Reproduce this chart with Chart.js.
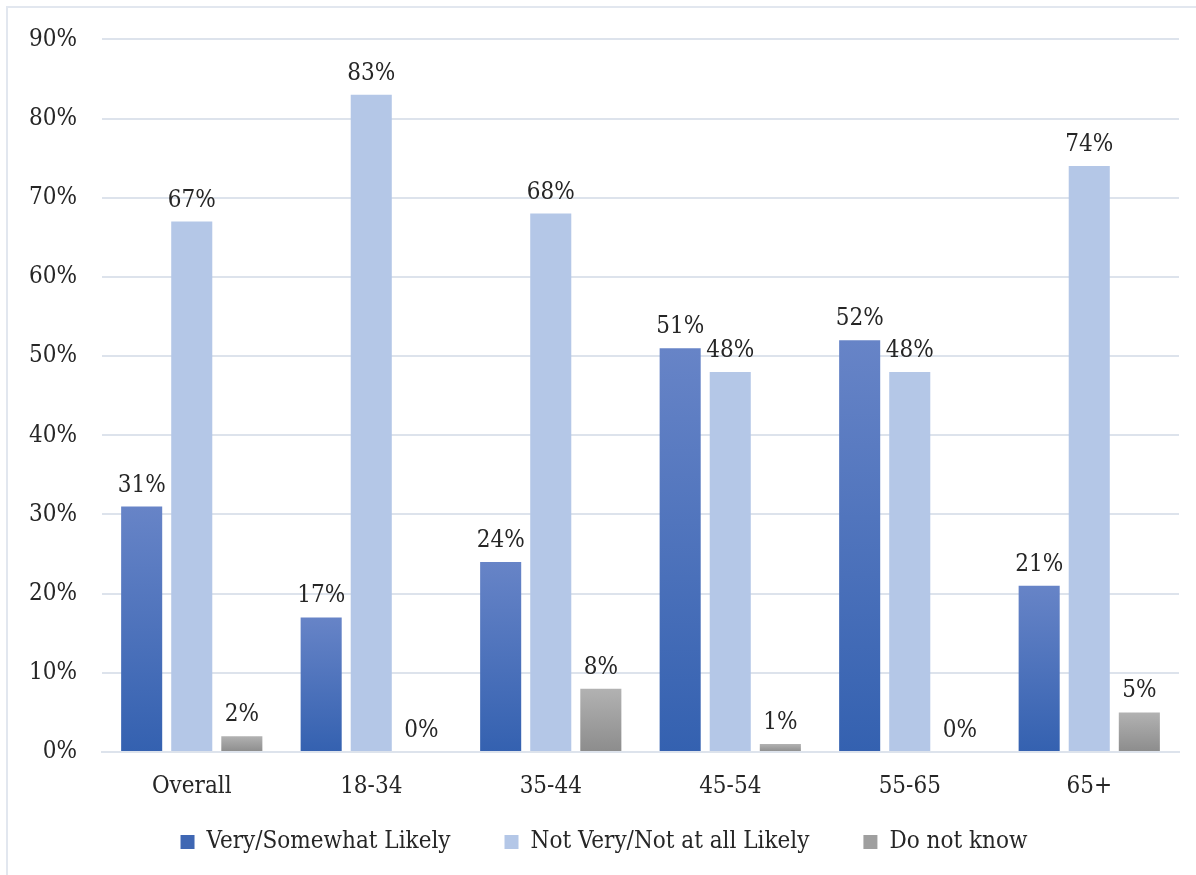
<!DOCTYPE html>
<html>
<head>
<meta charset="utf-8">
<script src="https://cdn.jsdelivr.net/npm/chart.js@4.4.1/dist/chart.umd.min.js"></script>
<style>
    html, body { margin: 0; padding: 0; background: #fff; overflow: hidden; }
    #frame { position: absolute; left: 6px; top: 6px; width: 1200px; height: 880px; border: 2px solid #e2e7ef; box-sizing: border-box; }
    #wrap { position: absolute; left: 0; top: 0; width: 1196px; height: 875px; }
</style>
</head>
<body>
<div id="frame"></div>
<div id="wrap"><canvas id="surveyChart" width="1196" height="875"></canvas></div>
<script>
const categories = ['Overall', '18-34', '35-44', '45-54', '55-65', '65+'];
const seriesNames = ['Very/Somewhat Likely', 'Not Very/Not at all Likely', 'Do not know'];
const likely = [31, 17, 24, 51, 52, 21];
const notLikely = [67, 83, 68, 48, 48, 74];
const dontKnow = [2, 0, 8, 1, 0, 5];
const yTicks = [0, 10, 20, 30, 40, 50, 60, 70, 80, 90];

const FONT = "'DejaVu Serif Condensed', 'DejaVu Serif', serif";
const FONT_SIZE = 24;
const TEXT = '#262626';

// vertical gradient over each bar, from its top down to the baseline
function barGradient(top, bottom, fallback) {
    return function(ctx) {
        const chart = ctx.chart;
        const y = chart.scales.y;
        if (!chart.chartArea || !y || ctx.raw === undefined) return fallback;
        const yTop = y.getPixelForValue(ctx.raw);
        const yBase = y.getPixelForValue(0);
        if (yBase - yTop < 1) return fallback;
        const g = chart.ctx.createLinearGradient(0, yTop, 0, yBase);
        g.addColorStop(0, top);
        g.addColorStop(1, bottom);
        return g;
    };
}

const legendColors = ['#3f67b3', '#b4c7e7', '#9f9f9f'];

const valueLabels = {
    id: 'valueLabels',
    afterDatasetsDraw(chart) {
        const ctx = chart.ctx;
        ctx.save();
        ctx.font = FONT_SIZE + 'px ' + FONT;
        ctx.fillStyle = TEXT;
        ctx.textAlign = 'center';
        ctx.textBaseline = 'alphabetic';
        chart.data.datasets.forEach((ds, i) => {
            const meta = chart.getDatasetMeta(i);
            meta.data.forEach((bar, j) => {
                ctx.fillText(ds.data[j] + '%', bar.x, bar.y - 15);
            });
        });
        ctx.restore();
    }
};

// legend padding is wide for the horizontal gaps; reserve less room for it,
// then let its box reach up over the tick label area so nothing is clipped
const legendNudge = {
    id: 'legendNudge',
    afterInit(chart) {
        const lg = chart.legend;
        if (!lg) return;
        const fit = lg.fit;
        lg.fit = function() { fit.call(this); this.height -= 27; };
    },
    afterLayout(chart) {
        const lg = chart.legend;
        if (!lg) return;
        lg.top -= 25;
        lg.height += 25;
    }
};

const ctx = document.getElementById('surveyChart').getContext('2d');
new Chart(ctx, {
    type: 'bar',
    data: {
        labels: categories,
        datasets: [
            { label: seriesNames[0], data: likely, backgroundColor: barGradient('#6784c7', '#3461b0', legendColors[0]) },
            { label: seriesNames[1], data: notLikely, backgroundColor: '#b4c7e7' },
            { label: seriesNames[2], data: dontKnow, backgroundColor: barGradient('#b2b2b2', '#8c8c8c', legendColors[2]) }
        ]
    },
    options: {
        responsive: false,
        animation: false,
        devicePixelRatio: 1,
        layout: { padding: { left: 29, right: 17, top: 26, bottom: 13 } },
        datasets: { bar: { categoryPercentage: 0.837, barPercentage: 0.82 } },
        scales: {
            x: {
                grid: { display: false, drawTicks: false },
                border: { display: true, color: '#dde3ec', width: 2 },
                ticks: { color: TEXT, font: { family: FONT, size: FONT_SIZE }, padding: 20 },
                afterFit(scale) { scale.height = 49; }
            },
            y: {
                min: 0,
                max: 90,
                afterBuildTicks(axis) { axis.ticks = yTicks.map(v => ({ value: v })); },
                grid: { color: '#dde3ec', lineWidth: 2, drawTicks: false },
                border: { display: false },
                ticks: { color: TEXT, font: { family: FONT, size: FONT_SIZE }, padding: 25, callback: v => v + '%' },
                afterFit(scale) { scale.width = 73; }
            }
        },
        plugins: {
            tooltip: { enabled: false },
            legend: {
                position: 'bottom',
                labels: {
                    color: TEXT,
                    font: { family: FONT, size: FONT_SIZE },
                    boxWidth: 14,
                    boxHeight: 14,
                    padding: 54,
                    generateLabels(chart) {
                        const items = Chart.defaults.plugins.legend.labels.generateLabels(chart);
                        items.forEach((it, i) => { it.fillStyle = legendColors[i]; it.strokeStyle = legendColors[i]; it.lineWidth = 0; });
                        return items;
                    }
                }
            }
        }
    },
    plugins: [valueLabels, legendNudge]
});
</script>
</body>
</html>
